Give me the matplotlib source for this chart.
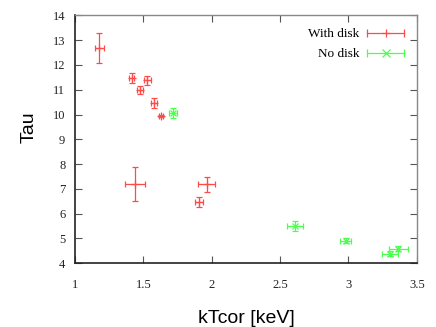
import matplotlib
matplotlib.use("Agg")
import matplotlib.pyplot as plt
from matplotlib.lines import Line2D
from matplotlib.legend_handler import HandlerBase

# With disk (red)
disk_x = [1.178, 1.414, 1.475, 1.529, 1.577, 1.626, 1.438, 1.962, 1.909]
disk_xerr = [0.035, 0.018, 0.02, 0.025, 0.022, 0.015, 0.072, 0.06, 0.03]
disk_y = [12.67, 11.48, 10.99, 11.38, 10.48, 9.94, 7.2, 7.19, 6.47]
disk_yerr = [0.6, 0.2, 0.18, 0.18, 0.2, 0.05, 0.7, 0.3, 0.2]

# No disk (green)
nodisk_x = [1.719, 2.61, 2.979, 3.303, 3.363]
nodisk_xerr = [0.03, 0.06, 0.04, 0.06, 0.07]
nodisk_y = [10.07, 5.5, 4.9, 4.39, 4.59]
nodisk_yerr = [0.2, 0.2, 0.1, 0.1, 0.1]

xticks = [1, 1.5, 2, 2.5, 3, 3.5]
xticklabels = ["1", "1.5", "2", "2.5", "3", "3.5"]
yticks = list(range(4, 15))

red = "#ff4a4a"
green = "#4cff4c"


class HErr(HandlerBase):
    def create_artists(self, legend, orig_handle, xdescent, ydescent, width,
                       height, fontsize, trans):
        c = orig_handle.get_color()
        m = orig_handle.get_marker()
        y = height / 2.0 - ydescent
        x0 = -xdescent
        x1 = -xdescent + width
        line = Line2D([x0, x1], [y, y], color=c, lw=0.9)
        caps = Line2D([x0, x1], [y, y], color=c, ls="", marker="|",
                      markersize=6, markeredgewidth=0.9)
        mk = Line2D([(x0 + x1) / 2.0], [y], color=c, ls="", marker=m,
                    markersize=6, markeredgewidth=0.9)
        for a in (line, caps, mk):
            a.set_transform(trans)
        return [line, caps, mk]


fig = plt.figure(figsize=(4.36, 3.27), dpi=100)
ax = fig.add_axes([0.172, 0.195, 0.784, 0.758])

ax.errorbar(disk_x, disk_y, xerr=disk_xerr, yerr=disk_yerr, fmt="+", color=red,
            ecolor=red, elinewidth=0.9, capsize=2.5, capthick=0.9, markersize=6,
            markeredgewidth=0.9)
ax.errorbar(nodisk_x, nodisk_y, xerr=nodisk_xerr, yerr=nodisk_yerr, fmt="x", color=green,
            ecolor=green, elinewidth=0.9, capsize=2.5, capthick=0.9, markersize=5,
            markeredgewidth=0.9)

ax.set_xlim(1, 3.5)
ax.set_ylim(4, 14)
ax.set_xticks(xticks)
ax.set_xticklabels(xticklabels)
ax.set_yticks(yticks)

serif = "Liberation Serif"
for lab in ax.get_xticklabels() + ax.get_yticklabels():
    lab.set_fontfamily(serif)
    lab.set_fontsize(9)
    lab.set_color("#222222")

ax.tick_params(direction="in", length=5, width=0.8, top=True, right=True, color="#555555")
ax.tick_params(axis="x", pad=11)
ax.tick_params(axis="y", pad=7)

for s in ["bottom", "left"]:
    ax.spines[s].set_color("#222222")
    ax.spines[s].set_linewidth(1.2)
for s in ["top", "right"]:
    ax.spines[s].set_color("#888888")
    ax.spines[s].set_linewidth(1.0)

ax.set_xlabel("kTcor [keV]", fontfamily="Liberation Sans", fontsize=14)
ax.set_ylabel("Tau", fontfamily="Liberation Sans", fontsize=14)
ax.xaxis.set_label_coords(0.5, -0.19)
ax.yaxis.set_label_coords(-0.11, 0.55)

h_disk = Line2D([], [], color=red, marker="+")
h_nodisk = Line2D([], [], color=green, marker="x")
leg = ax.legend([h_disk, h_nodisk], ["With disk", "No disk"], loc="upper right",
                frameon=False, markerfirst=False,
                handler_map={Line2D: HErr()},
                prop={"family": serif, "size": 9.5}, handlelength=2.8,
                borderaxespad=0.55, labelspacing=0.6, handletextpad=0.6)

fig.savefig("out.png", dpi=100)
